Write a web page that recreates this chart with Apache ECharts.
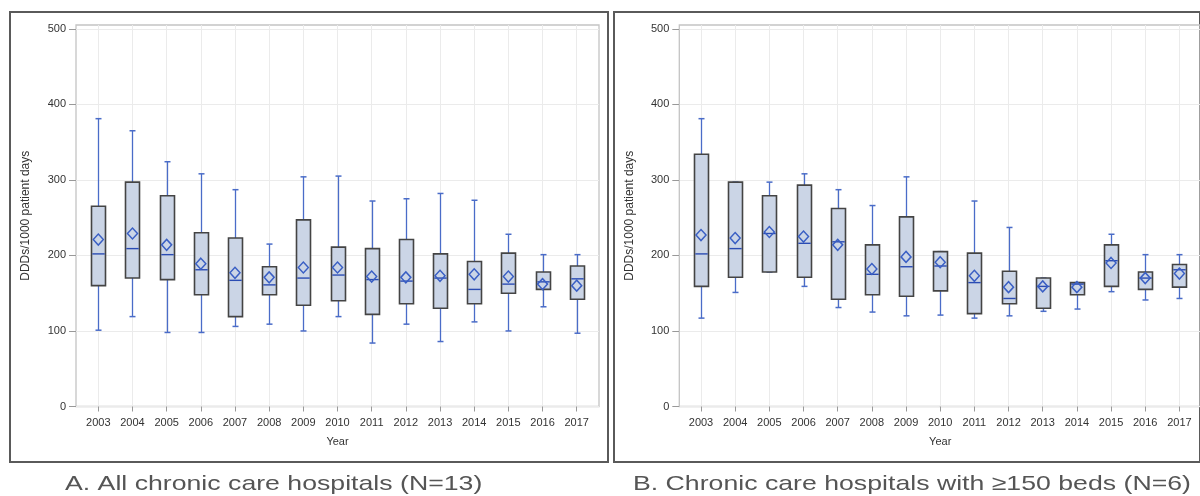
<!DOCTYPE html>
<html>
<head>
<meta charset="utf-8">
<script src="https://cdn.jsdelivr.net/npm/echarts@6/dist/echarts.min.js"></script>
<style>
html,body{margin:0;padding:0;background:#fff;}
#c{width:1200px;height:496px;}
</style>
</head>
<body>
<div id="c"></div>
<script>
// ---- Data ----
const years = ['2003','2004','2005','2006','2007','2008','2009','2010','2011','2012','2013','2014','2015','2016','2017'];
const yTicks = [0, 100, 200, 300, 400, 500];

// Panel A: All chronic care hospitals (N=13)
const aLow    = [101, 119,  98,  98, 106, 109, 100, 119,  84, 109,  86, 112, 100, 132,  97];
const aQ1     = [160, 170, 168, 148, 119, 148, 134, 140, 122, 136, 130, 136, 150, 155, 142];
const aMedian = [202, 209, 201, 181, 167, 161, 170, 174, 168, 166, 170, 155, 162, 165, 169];
const aQ3     = [265, 297, 279, 230, 223, 185, 247, 211, 209, 221, 202, 192, 203, 178, 186];
const aHigh   = [381, 365, 324, 308, 287, 215, 304, 305, 272, 275, 282, 273, 228, 201, 201];
const aMean   = [221, 229, 214, 189, 177, 171, 184, 184, 172, 171, 173, 175, 172, 162, 160];

// Panel B: Chronic care hospitals with >=150 beds (N=6)
const bLow    = [117, 151, 178, 159, 131, 125, 120, 121, 117, 120, 126, 129, 152, 141, 143];
const bQ1     = [159, 171, 178, 171, 142, 148, 146, 153, 123, 136, 130, 148, 159, 155, 158];
const bMedian = [202, 209, 229, 216, 218, 175, 185, 186, 164, 143, 159, 162, 193, 170, 181];
const bQ3     = [334, 297, 279, 293, 262, 214, 251, 205, 203, 179, 170, 164, 214, 178, 188];
const bHigh   = [381, 297, 297, 308, 287, 266, 304, 205, 272, 237, 170, 164, 228, 201, 201];
const bMean   = [227, 223, 231, 225, 214, 182, 198, 191, 173, 158, 159, 158, 190, 170, 176];

// ---- Styles ----
const FONT = '"Liberation Sans", Arial, Helvetica, sans-serif';
const BOX_FILL = '#cbd5e6';
const BOX_STROKE = '#444444';
const WHISKER = '#4a6cc8';
const MEDIAN = '#2b4cb3';
const GRIDLINE = '#ebebeb';

function boxData(low, q1, med, q3, high) {
  return years.map((y, i) => [i, low[i], q1[i], med[i], q3[i], high[i]]);
}
function meanData(mean) {
  return years.map((y, i) => [i, mean[i]]);
}

function renderBox(params, api) {
  const x = api.value(0);
  const pLow = api.coord([x, api.value(1)]);
  const pQ1 = api.coord([x, api.value(2)]);
  const pMed = api.coord([x, api.value(3)]);
  const pQ3 = api.coord([x, api.value(4)]);
  const pHigh = api.coord([x, api.value(5)]);
  const cx = Math.round(pQ1[0]) + 0.5;
  const bw = 14, cw = 6;
  return {
    type: 'group',
    children: [
      { type: 'line', shape: { x1: cx, y1: pHigh[1], x2: cx, y2: pLow[1] }, style: { stroke: WHISKER, lineWidth: 1.3 } },
      { type: 'line', shape: { x1: cx - cw / 2, y1: pHigh[1], x2: cx + cw / 2, y2: pHigh[1] }, style: { stroke: WHISKER, lineWidth: 1.5 } },
      { type: 'line', shape: { x1: cx - cw / 2, y1: pLow[1], x2: cx + cw / 2, y2: pLow[1] }, style: { stroke: WHISKER, lineWidth: 1.5 } },
      { type: 'rect', shape: { x: cx - bw / 2, y: pQ3[1], width: bw, height: pQ1[1] - pQ3[1] }, style: { fill: BOX_FILL, stroke: BOX_STROKE, lineWidth: 1.6 } },
      { type: 'line', shape: { x1: cx - bw / 2 + 0.8, y1: pMed[1], x2: cx + bw / 2 - 0.8, y2: pMed[1] }, style: { stroke: MEDIAN, lineWidth: 1.4 } }
    ]
  };
}

// panel geometry
const panels = [
  { frameLeft: 10, plotLeft: 76, dataLeft: 98.3 },
  { frameLeft: 614, plotLeft: 679.3, dataLeft: 701 }
];
const PLOT_TOP = 25, PLOT_H = 381.5, PLOT_W = 523, DATA_W = 478.4;

const grid = [], xAxis = [], yAxis = [];
panels.forEach((p, k) => {
  const g = k * 3;
  grid.push({ left: p.frameLeft, top: 12, width: 598, height: 450, show: true, borderColor: '#5a5a5a', borderWidth: 2, backgroundColor: 'transparent' });
  grid.push({ left: p.plotLeft, top: PLOT_TOP, width: PLOT_W, height: PLOT_H, show: true, borderColor: '#c4c4c4', borderWidth: 1.3, backgroundColor: 'transparent' });
  grid.push({ left: p.dataLeft, top: PLOT_TOP, width: DATA_W, height: PLOT_H, show: false });

  xAxis.push({ gridIndex: g, type: 'value', show: false });
  xAxis.push({ gridIndex: g + 1, type: 'value', show: false });
  xAxis.push({
    gridIndex: g + 2, type: 'category', data: years, boundaryGap: false, position: 'bottom',
    name: 'Year', nameLocation: 'middle', nameGap: 30,
    nameTextStyle: { fontFamily: FONT, fontSize: 11, color: '#333' },
    axisLine: { show: false },
    axisTick: { show: true, length: 5, lineStyle: { color: '#999' } },
    axisLabel: { fontFamily: FONT, fontSize: 11, color: '#333', margin: 11, interval: 0 },
    splitLine: { show: true, lineStyle: { color: GRIDLINE, width: 1 } }
  });

  yAxis.push({ gridIndex: g, type: 'value', show: false });
  yAxis.push({
    gridIndex: g + 1, type: 'value', min: 0, max: 505, interval: 100,
    name: 'DDDs/1000 patient days', nameLocation: 'middle', nameGap: 44,
    nameTextStyle: { fontFamily: FONT, fontSize: 12, color: '#333' },
    axisLine: { show: false },
    axisTick: { show: true, length: 7, lineStyle: { color: '#999' }, customValues: yTicks },
    axisLabel: { fontFamily: FONT, fontSize: 11, color: '#333', margin: 10, customValues: yTicks,
      formatter: v => (yTicks.indexOf(v) >= 0 ? String(v) : '') },
    splitLine: { show: true, lineStyle: { color: GRIDLINE, width: 1 } }
  });
  yAxis.push({ gridIndex: g + 2, type: 'value', min: 0, max: 505, show: false });
});

const series = [];
[[aLow, aQ1, aMedian, aQ3, aHigh, aMean], [bLow, bQ1, bMedian, bQ3, bHigh, bMean]].forEach((d, k) => {
  const idx = k * 3 + 2;
  series.push({
    type: 'custom', xAxisIndex: idx, yAxisIndex: idx,
    renderItem: renderBox,
    encode: { x: 0, y: [1, 2, 3, 4, 5] },
    data: boxData(d[0], d[1], d[2], d[3], d[4]),
    z: 3, silent: true
  });
  series.push({
    type: 'scatter', xAxisIndex: idx, yAxisIndex: idx,
    symbol: 'diamond', symbolSize: [10, 11],
    itemStyle: { color: 'rgba(0,0,0,0)', borderColor: '#3a5fc4', borderWidth: 1.5, opacity: 1 },
    data: meanData(d[5]), z: 4, silent: true
  });
});

const chart = echarts.init(document.getElementById('c'), null, { renderer: 'canvas' });
chart.setOption({
  animation: false,
  backgroundColor: '#ffffff',
  grid, xAxis, yAxis, series,
  graphic: [
    { type: 'text', x: 65, y: 484, scaleX: 1.27, scaleY: 1,
      style: { text: 'A. All chronic care hospitals (N=13)', font: '21px ' + FONT, fill: '#555555', textVerticalAlign: 'middle', verticalAlign: 'middle' } },
    { type: 'text', x: 633, y: 484, scaleX: 1.27, scaleY: 1,
      style: { text: 'B. Chronic care hospitals with \u2265150 beds (N=6)', font: '21px ' + FONT, fill: '#555555', textVerticalAlign: 'middle', verticalAlign: 'middle' } }
  ]
});
</script>
</body>
</html>
